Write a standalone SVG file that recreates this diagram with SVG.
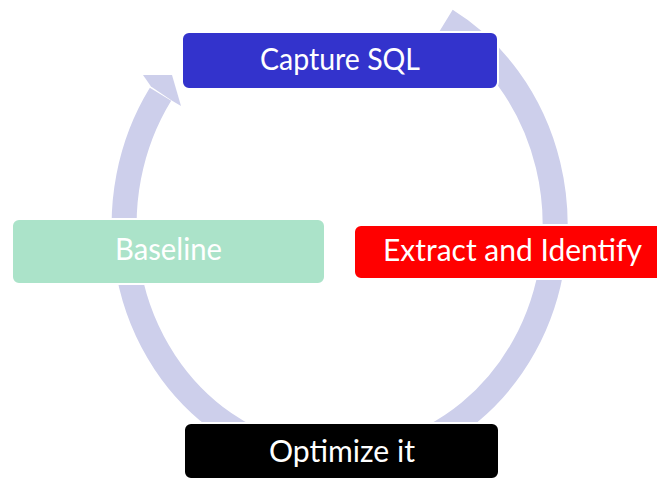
<svg xmlns="http://www.w3.org/2000/svg" width="657" height="480" viewBox="0 0 657 480">
<style>
.band{fill:none;stroke:#CDCFEB;stroke-width:25;stroke-linecap:butt}
.head{fill:#CDCFEB}
.box{stroke:#FFFFFF;stroke-width:2}
.lbl{font-family:Lato,"Open Sans","Liberation Sans",sans-serif;font-size:31px;fill:#FFFFFF;text-anchor:middle}
</style>
<rect width="657" height="480" fill="#FFFFFF"/>
<g id="connectors">
  <path class="band" d="M 446.1 20.5 A 215.5 235 0 1 1 160.5 94.2"/>
  <polygon class="head" points="151,86.6 143,75 172,75 181,106 171.7,100.6"/>
</g>
<g id="capture-sql">
  <rect class="box" x="182" y="32" width="316" height="57" rx="7" fill="#3333CC"/>
  <text class="lbl" x="340" y="70" textLength="160" lengthAdjust="spacingAndGlyphs">Capture SQL</text>
</g>
<g id="extract-identify">
  <rect class="box" x="354" y="225" width="318" height="54" rx="7" fill="#FF0000"/>
  <text class="lbl" x="512.5" y="261" textLength="259" lengthAdjust="spacingAndGlyphs">Extract and Identify</text>
</g>
<g id="optimize-it">
  <rect class="box" x="184" y="423" width="315" height="56" rx="7" fill="#000000"/>
  <text class="lbl" x="342" y="462" textLength="146" lengthAdjust="spacingAndGlyphs">Optimize it</text>
</g>
<g id="baseline">
  <rect class="box" x="12" y="219" width="313" height="65" rx="7" fill="#ABE3C9"/>
  <text class="lbl" x="168.5" y="260" textLength="107" lengthAdjust="spacingAndGlyphs">Baseline</text>
</g>
</svg>
